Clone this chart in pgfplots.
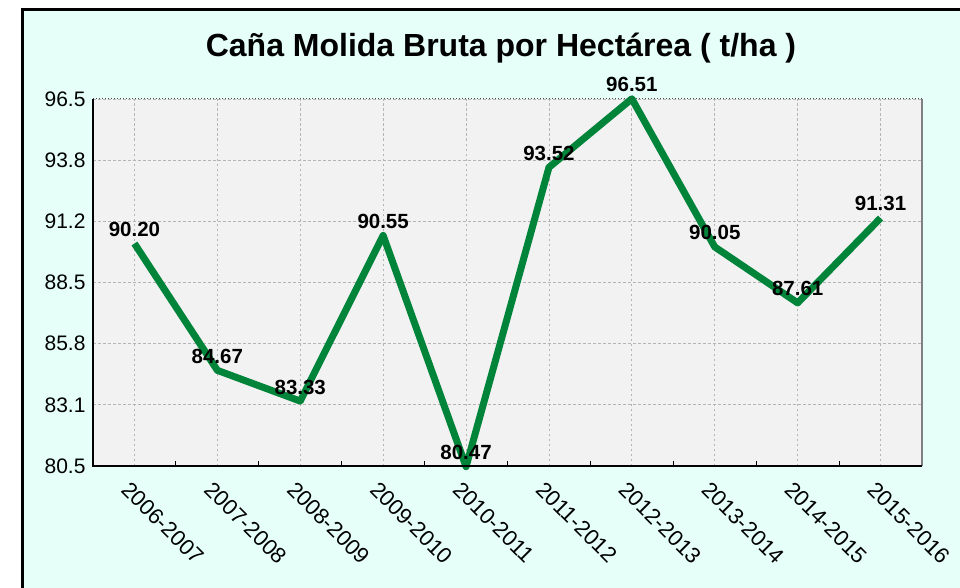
\documentclass[border=0pt]{standalone}
\usepackage{fontspec}
\setmainfont{Liberation Sans}
\usepackage{pgfplots}
\pgfplotsset{compat=1.18}
\definecolor{mint}{HTML}{E6FFF9}
\definecolor{plotbg}{HTML}{F2F2F2}
\definecolor{linegreen}{HTML}{00843A}
\definecolor{gridgray}{HTML}{B4B4B4}

\begin{document}
\begin{tikzpicture}[x=1pt,y=1pt]
\useasboundingbox (0,0) rectangle (960,587);
\fill[mint] (22,-20) rectangle (990,577.5);
\draw[line width=3pt] (22,-20) -- (22,577.5) -- (990,577.5);
\node[font=\fontsize{32}{38}\selectfont\bfseries] at (501,539) {Caña Molida Bruta por Hectárea ( t/ha )};
\begin{axis}[at={(93pt,121pt)},anchor=south west,width=829pt,height=367pt,scale only axis,
 xmin=-0.5,xmax=9.5,ymin=80.5,ymax=96.5,clip=false,
 axis background/.style={fill=plotbg},axis line style={draw=none},
 xtick={0,...,9},
 xticklabels={2006-2007,2007-2008,2008-2009,2009-2010,2010-2011,2011-2012,2012-2013,2013-2014,2014-2015,2015-2016},
 minor xtick={0.5,1.5,...,8.5},
 ytick={80.5,83.1667,85.8333,88.5,91.1667,93.8333,96.5},
 yticklabels={80.5,83.1,85.8,88.5,91.2,93.8,96.5},
 tick pos=left,tick align=inside,major tick length=0pt,minor tick length=5pt,
 minor tick style={black,line width=1pt},
 grid=major,major grid style={gridgray,dash pattern=on 2.5pt off 2.5pt,line width=0.9pt},
 yticklabel style={font=\fontsize{21}{25}\selectfont,xshift=-4pt},
 xticklabel style={font=\fontsize{22}{26}\selectfont,rotate=-45,anchor=north west,xshift=4pt,yshift=-9pt},
 point meta=explicit symbolic,
 nodes near coords,
 nodes near coords style={font=\fontsize{20.5}{24}\selectfont\bfseries,anchor=south,yshift=0pt,text=black},
]
\addplot[linegreen,line width=7pt,line join=round] coordinates {
 (0,90.20) [90.20]
 (1,84.67) [84.67]
 (2,83.33) [83.33]
 (3,90.55) [90.55]
 (4,80.47) [80.47]
 (5,93.52) [93.52]
 (6,96.51) [96.51]
 (7,90.05) [90.05]
 (8,87.61) [87.61]
 (9,91.31) [91.31]
};
\draw[black!70,dotted,line width=1pt] (rel axis cs:0,1) -- (rel axis cs:1,1);
\draw[gray,line width=2pt] (rel axis cs:1,0) -- (rel axis cs:1,1);
\draw[black,line width=2pt] (rel axis cs:0,1) -- (rel axis cs:0,0) -- (rel axis cs:1,0);
\end{axis}
\end{tikzpicture}
\end{document}
